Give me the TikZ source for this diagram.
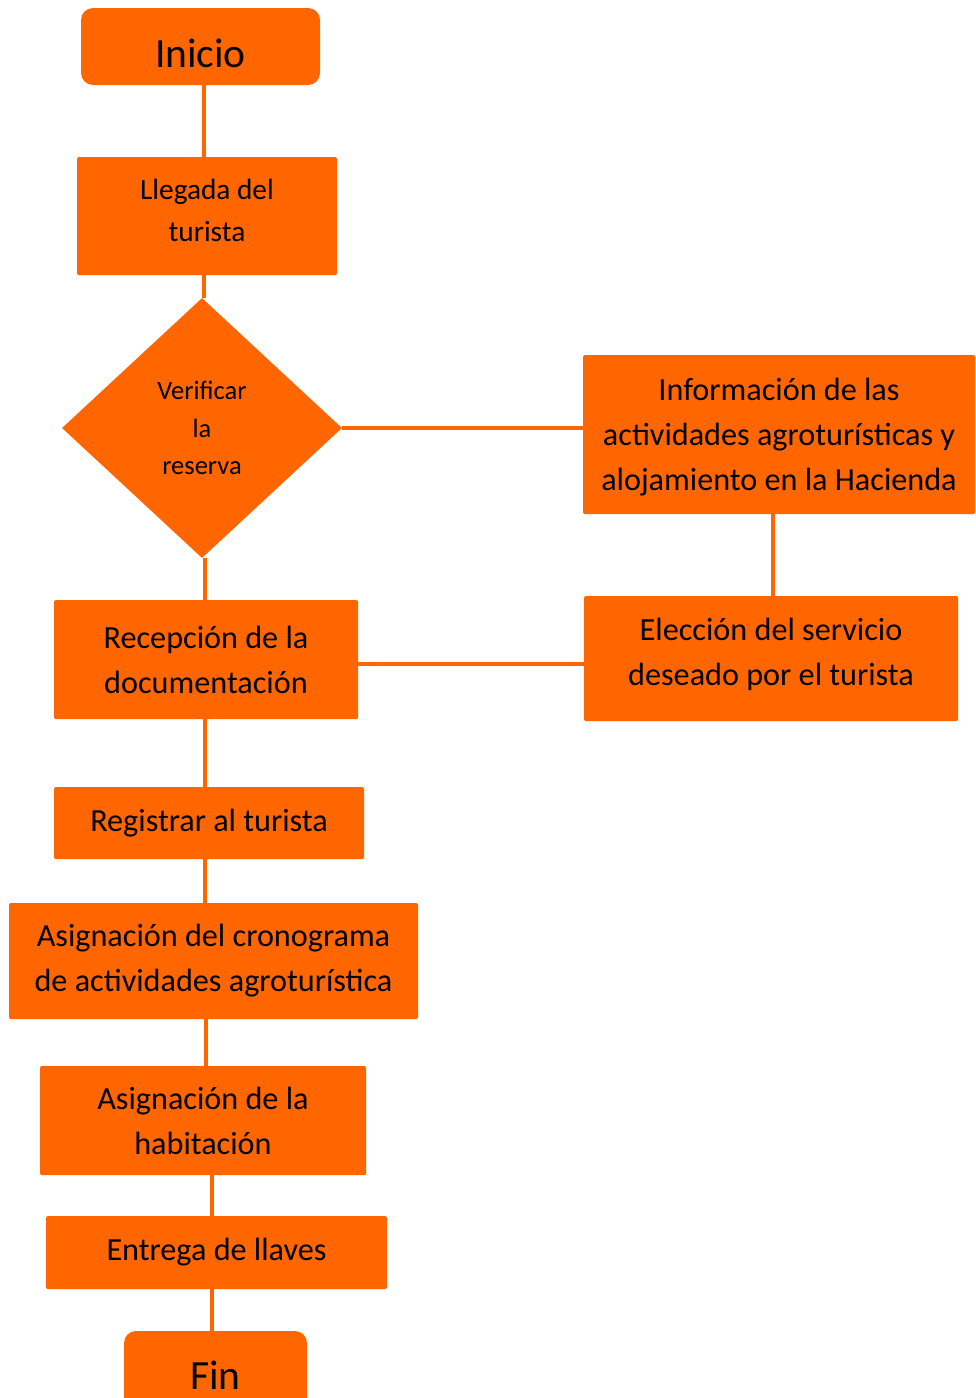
\documentclass[tikz,border=0pt]{standalone}
\usepackage{fontspec}
\setmainfont{Carlito}
\usetikzlibrary{shapes.geometric}
\definecolor{org}{RGB}{255,102,0}
\begin{document}
\begin{tikzpicture}[x=1pt,y=-1pt,
  box/.style={fill=org, draw=none, rounded corners=1.5pt, inner sep=0pt, align=center, font=\fontsize{32.2}{45}\selectfont},
  term/.style={box, rounded corners=12pt, font=\fontsize{41.5}{48}\selectfont},
  decis/.style={diamond, fill=org, draw=none, inner sep=0pt, align=center, font=\fontsize{26.5}{37.5}\selectfont},
  conn/.style={draw=org, line width=4pt}]
\useasboundingbox (0,0) rectangle (975,1398);
\node[term, minimum width=239pt, minimum height=77pt, text height=41pt, text depth=0pt] (inicio) at (200.5,46.5) {Inicio};
\node[box, minimum width=260pt, minimum height=118pt, font=\fontsize{29.3}{42}\selectfont, text depth=12pt] (llegada) at (207,216) {Llegada del\\turista};
\node[decis, minimum width=280pt, minimum height=260pt] (verif) at (202,428) {Verificar\\la\\reserva};
\node[box, minimum width=392pt, minimum height=159pt, text depth=0.5pt] (info) at (779,434.5) {Información de las\\actividades agroturísticas y\\alojamiento en la Hacienda};
\node[box, minimum width=374pt, minimum height=125pt, text depth=14pt] (eleccion) at (771,658.5) {Elección del servicio\\deseado por el turista};
\node[box, minimum width=304pt, minimum height=119pt] (recep) at (206,659.5) {Recepción de la\\documentación};
\node[box, minimum width=310pt, minimum height=72pt] (registrar) at (209,823) {Registrar al turista};
\node[box, minimum width=409pt, minimum height=116pt] (crono) at (213.5,961) {Asignación del cronograma\\de actividades agroturística};
\node[box, minimum width=326pt, minimum height=109pt] (habit) at (203,1120.5) {Asignación de la\\habitación};
\node[box, minimum width=341pt, minimum height=73pt] (entrega) at (216.5,1252.5) {Entrega de llaves};
\node[term, minimum width=183pt, minimum height=89pt] (fin) at (215.5,1375.5) {Fin};
\draw[conn] (204,0 |- inicio.south) -- (204,0 |- llegada.north);
\draw[conn] (204,0 |- llegada.south) -- (204,0 |- verif.north);
\draw[conn] (verif.east) -- (verif.east -| info.west);
\draw[conn] (773,0 |- info.south) -- (773,0 |- eleccion.north);
\draw[conn] (0,664 -| recep.east) -- (0,664 -| eleccion.west);
\draw[conn] (205,0 |- verif.south) -- (205,0 |- recep.north);
\draw[conn] (205,0 |- recep.south) -- (205,0 |- registrar.north);
\draw[conn] (205,0 |- registrar.south) -- (205,0 |- crono.north);
\draw[conn] (206,0 |- crono.south) -- (206,0 |- habit.north);
\draw[conn] (212,0 |- habit.south) -- (212,0 |- entrega.north);
\draw[conn] (212,0 |- entrega.south) -- (212,0 |- fin.north);
\end{tikzpicture}
\end{document}
